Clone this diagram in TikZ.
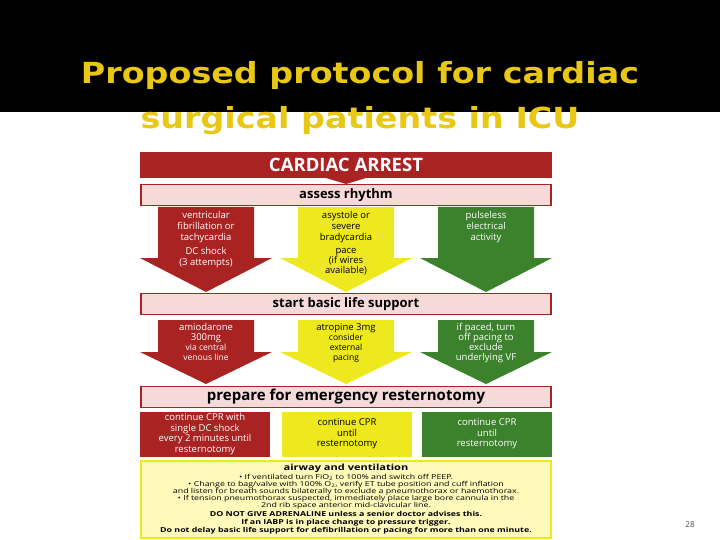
\documentclass[tikz,border=0pt]{standalone}
\usepackage{fontspec}
\setmainfont{Open Sans}
\newfontfamily\titlefont{DejaVu Sans}
\definecolor{dred}{RGB}{170,35,35}
\definecolor{pinkb}{RGB}{246,218,218}
\definecolor{yel}{RGB}{238,232,30}
\definecolor{grn}{RGB}{60,130,45}
\definecolor{ltyel}{RGB}{255,250,185}
\definecolor{ttl}{RGB}{232,200,20}
\begin{document}
\begin{tikzpicture}[x=1pt,y=-1pt,
 band/.style={draw=dred,fill=pinkb,line width=1.2pt,minimum width=410pt,minimum height=21pt,inner sep=0pt,font=\bfseries\fontsize{13}{13}\selectfont},
 atext/.style={align=center,font=\fontsize{9.5}{11}\selectfont,inner sep=0pt,anchor=north},
 boxc/.style={minimum width=130pt,minimum height=45pt,inner sep=0pt,align=center,font=\fontsize{9.5}{10.5}\selectfont}]
\useasboundingbox (0,0) rectangle (720,540);
\fill[white] (0,0) rectangle (720,540);
\fill[black] (0,0) rectangle (720,112);
\node[font=\titlefont\bfseries\fontsize{29}{29}\selectfont,text=ttl,xscale=1.15] (t1) at (360,76) {Proposed protocol for cardiac};
\node[font=\titlefont\bfseries\fontsize{29}{29}\selectfont,text=ttl,xscale=1.15] (t2) at (360,121) {surgical patients in ICU};
\node[font=\fontsize{8}{8}\selectfont,text=black!70] (pg) at (690,525) {28};
\node[fill=dred,minimum width=412pt,minimum height=26pt,inner sep=0pt,text=white,font=\bfseries\fontsize{18.5}{18.5}\selectfont] (ca) at (346,165) {CARDIAC ARREST};
\fill[dred] (326,178) -- (366,178) -- (346,184) -- cycle;
\node[band] (ar) at (346,195) {assess rhythm};
\newcommand\arr[5]{% cx, top, bodybottom, tip, color
 \fill[#5] (#1-48,#2) -- (#1+48,#2) -- (#1+48,#3) -- (#1+66,#3) -- (#1,#4) -- (#1-66,#3) -- (#1-48,#3) -- cycle;}
\arr{206}{207}{258}{292}{dred}
\arr{346}{207}{258}{292}{yel}
\arr{486}{207}{258}{292}{grn}
\node[atext,text=white] (a1) at (206,211) {ventricular\\fibrillation or\\tachycardia\\[3pt]DC shock\\(3 attempts)};
\node[atext,text=black] (a2) at (346,211) {asystole or\\severe\\bradycardia\\[2pt]pace\\[-1pt](if wires\\[-1pt]available)};
\node[atext,text=white] (a3) at (486,211) {pulseless\\electrical\\activity};
\node[band] (bl) at (346,304) {start basic life support};
\arr{206}{320}{352}{384}{dred}
\arr{346}{320}{352}{384}{yel}
\arr{486}{320}{352}{384}{grn}
\node[atext,text=white] (b1) at (206,323) {amiodarone\\[-1pt]300mg\\[-1pt]{\fontsize{8.5}{9}\selectfont via central}\\[-1pt]{\fontsize{8.5}{9}\selectfont venous line}};
\node[atext,text=black] (b2) at (346,323) {atropine 3mg\\[-1pt]{\fontsize{8.5}{9}\selectfont consider}\\[-1pt]{\fontsize{8.5}{9}\selectfont external}\\[-1pt]{\fontsize{8.5}{9}\selectfont pacing}};
\node[atext,text=white] (b3) at (486,323) {if paced, turn\\[-1pt]off pacing to\\[-1pt]exclude\\[-1pt]underlying VF};
\node[band,font=\bfseries\fontsize{15}{15}\selectfont] (pr) at (346,397) {prepare for emergency resternotomy};
\node[boxc,fill=dred,text=white] (c1) at (205,434) {continue CPR with\\single DC shock\\every 2 minutes until\\resternotomy};
\node[boxc,fill=yel,text=black] (c2) at (347,434) {continue CPR\\until\\resternotomy};
\node[boxc,fill=grn,text=white] (c3) at (487,434) {continue CPR\\until\\resternotomy};
\draw[draw=yel,fill=ltyel,line width=1.2pt] (141,461) rectangle (551,538);
\node[align=center,inner sep=0pt,xscale=1.3,font=\fontsize{6.8}{7}\selectfont] (aw) at (346,499) {{\bfseries\fontsize{8.5}{10}\selectfont airway and ventilation}\\[1pt]
• If ventilated turn FiO\textsubscript{2} to 100\% and switch off PEEP.\\
• Change to bag/valve with 100\% O\textsubscript{2}, verify ET tube position and cuff inflation\\
and listen for breath sounds bilaterally to exclude a pneumothorax or haemothorax.\\
• If tension pneumothorax suspected, immediately place large bore cannula in the\\
2nd rib space anterior mid-clavicular line.\\[2pt]
{\bfseries DO NOT GIVE ADRENALINE unless a senior doctor advises this.}\\[1pt]
{\bfseries If an IABP is in place change to pressure trigger.}\\[1pt]
{\bfseries Do not delay basic life support for defibrillation or pacing for more than one minute.}};
\end{tikzpicture}
\end{document}
